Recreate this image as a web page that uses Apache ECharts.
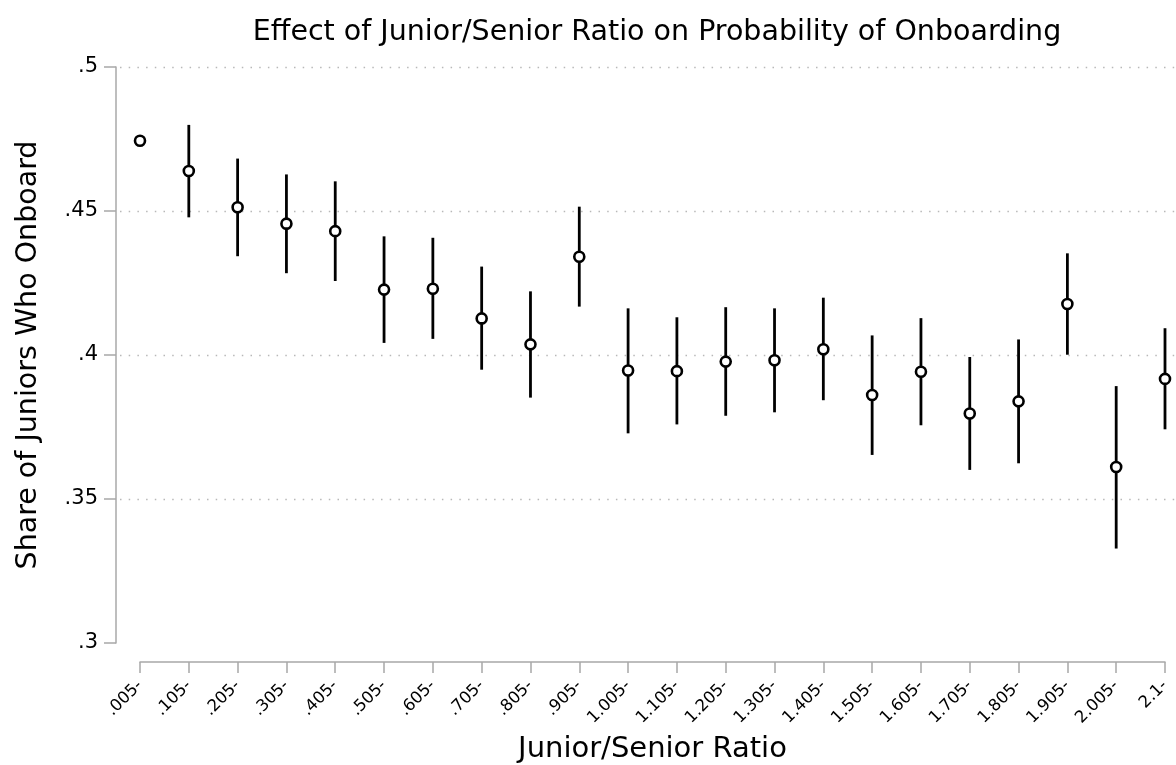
<!DOCTYPE html>
<html>
<head>
<meta charset="utf-8">
<script src="https://cdn.jsdelivr.net/npm/echarts@6/dist/echarts.min.js"></script>
<style>
	html, body { margin: 0; padding: 0; background: #fff; }
	#chart { width: 1176px; height: 765px; }
</style>
</head>
<body>
<div id="chart"></div>
<script>
	/** bins of the junior/senior ratio */
	var categories = [".005-", ".105-", ".205-", ".305-", ".405-", ".505-", ".605-", ".705-",
		".805-", ".905-", "1.005-", "1.105-", "1.205-", "1.305-", "1.405-", "1.505-",
		"1.605-", "1.705-", "1.805-", "1.905-", "2.005-", "2.1-"];
	/** point estimates */
	var shares = [0.4744, 0.4639, 0.4513, 0.4456, 0.4430, 0.4227, 0.4230, 0.4127,
		0.4037, 0.4341, 0.3946, 0.3944, 0.3977, 0.3982, 0.4020, 0.3861,
		0.3942, 0.3797, 0.3839, 0.4177, 0.3611, 0.3917];
	/** confidence interval bounds, null where no bar is drawn */
	var upper = [null, 0.4799, 0.4682, 0.4627, 0.4603, 0.4412, 0.4407, 0.4307,
		0.4221, 0.4515, 0.4162, 0.4131, 0.4166, 0.4162, 0.4199, 0.4068,
		0.4128, 0.3993, 0.4054, 0.4353, 0.3892, 0.4093];
	var lower = [null, 0.4478, 0.4343, 0.4284, 0.4257, 0.4042, 0.4056, 0.3949,
		0.3852, 0.4168, 0.3728, 0.3759, 0.3789, 0.3801, 0.3843, 0.3653,
		0.3756, 0.3601, 0.3624, 0.4001, 0.3328, 0.3742];
	var yTicks = [0.3, 0.35, 0.4, 0.45, 0.5];

	var font = "DejaVu Sans";
	var axisGray = "#a8a8a8";

	var barData = [];
	for (var i = 0; i < categories.length; i++) {
		if (upper[i] !== null) {
			barData.push([i, lower[i], upper[i]]);
		}
	}

	function renderBar(params, api) {
		var lo = api.coord([api.value(0), api.value(1)]);
		var hi = api.coord([api.value(0), api.value(2)]);
		return {
			type: "line",
			shape: { x1: lo[0], y1: lo[1], x2: hi[0], y2: hi[1] },
			style: { stroke: "#000", lineWidth: 2.8 }
		};
	}

	function tickLabel(v) {
		var hit = yTicks.filter(function(t) { return Math.abs(t - v) < 1e-9; });
		return hit.length ? String(+v.toFixed(2)).replace(/^0/, "") : "";
	}

	var chart = echarts.init(document.getElementById("chart"));
	chart.setOption({
		animation: false,
		backgroundColor: "#fff",
		title: {
			text: "Effect of Junior/Senior Ratio on Probability of Onboarding",
			left: 652,
			textAlign: "center",
			top: 13,
			textStyle: { fontFamily: font, fontSize: 28.5, fontWeight: "normal", color: "#000" }
		},
		grid: [
			{ left: 140, right: 11, top: 67, bottom: 122, outerBoundsMode: "none", containLabel: false },
			// second grid only carries the dotted reference lines across the full width
			{ left: 120, right: 0, top: 67, bottom: 122, outerBoundsMode: "none", containLabel: false }
		],
		xAxis: [{
			type: "category",
			gridIndex: 0,
			data: categories,
			boundaryGap: false,
			offset: 19,
			name: "Junior/Senior Ratio",
			nameLocation: "middle",
			nameGap: 73,
			nameTextStyle: { fontFamily: font, fontSize: 29, color: "#000" },
			axisLine: { lineStyle: { color: axisGray, width: 1.5 } },
			axisTick: { alignWithLabel: true, length: 11, lineStyle: { color: axisGray, width: 1.5 } },
			axisLabel: { rotate: 45, interval: 0, margin: 21, fontFamily: font, fontSize: 16.5, color: "#000" },
			splitLine: { show: false }
		}, {
			type: "value",
			gridIndex: 1,
			show: false
		}],
		yAxis: [{
			type: "value",
			gridIndex: 0,
			min: 0.3,
			max: 0.5,
			interval: 0.05,
			offset: 24,
			name: "Share of Juniors Who Onboard",
			nameLocation: "middle",
			nameGap: 73,
			nameTextStyle: { fontFamily: font, fontSize: 28.5, color: "#000" },
			axisLine: { show: true, lineStyle: { color: axisGray, width: 1.5 } },
			axisTick: { show: true, length: 12, lineStyle: { color: axisGray, width: 1.5 } },
			axisLabel: { margin: 18, fontFamily: font, fontSize: 21, color: "#000", formatter: tickLabel },
			splitLine: { show: false }
		}, {
			type: "value",
			gridIndex: 1,
			min: 0.3,
			max: 0.5,
			interval: 0.05,
			axisLine: { show: false },
			axisTick: { show: false },
			axisLabel: { show: false },
			splitLine: {
				show: true,
				showMinLine: false,
				lineStyle: { color: "#b8b8b8", type: [1.5, 7.2], width: 1.3 }
			}
		}],
		series: [{
			type: "custom",
			renderItem: renderBar,
			data: barData,
			encode: { x: 0, y: [1, 2] },
			z: 2
		}, {
			type: "scatter",
			data: shares,
			symbol: "circle",
			symbolSize: 10,
			itemStyle: { color: "#fff", borderColor: "#000", borderWidth: 2.6, opacity: 1 },
			z: 3
		}]
	});
</script>
</body>
</html>
